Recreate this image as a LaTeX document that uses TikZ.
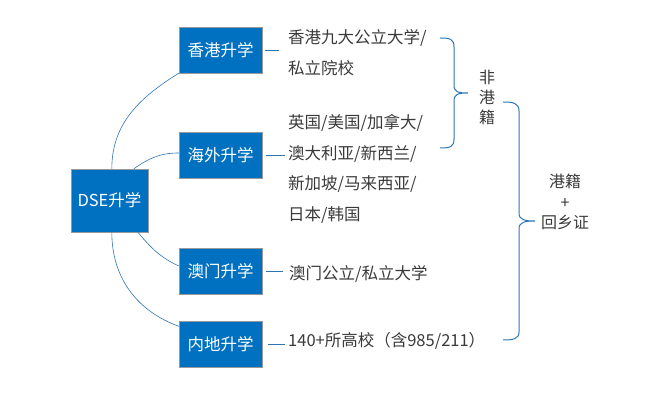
\documentclass[tikz,border=0pt]{standalone}
\usepackage{fontspec}
\setmainfont{Noto Sans CJK SC}
\usetikzlibrary{positioning}
\definecolor{boxblue}{HTML}{0070C0}
\definecolor{lineblue}{HTML}{2E75B6}
\definecolor{txtgray}{HTML}{3A3A3A}

\begin{document}
\begin{tikzpicture}[x=1pt,y=1pt,
    every node/.style={inner sep=0pt},
    bluebox/.style={draw=gray!80,fill=boxblue,text=white,minimum width=83pt,minimum height=46pt,font=\fontsize{16.5}{18}\selectfont},
    info/.style={anchor=west,align=left,text=txtgray,font=\fontsize{16.5}{30.7}\selectfont},
    tag/.style={align=center,text=txtgray,font=\fontsize{16}{20.3}\selectfont},
    link/.style={draw=lineblue,line width=0.6pt},
    bracket/.style={draw=lineblue,line width=1pt}]
\useasboundingbox (0,0) rectangle (645,401);
% boxes
\node[bluebox,minimum width=77pt,minimum height=63pt] (dse) at (109.5,200.5) {DSE升学};
\node[bluebox] (hk) at (220.5,351) {香港升学};
\node[bluebox] (ow) at (220.5,246) {海外升学};
\node[bluebox] (mo) at (220.5,130) {澳门升学};
\node[bluebox] (ml) at (220.5,56.5) {内地升学};
% texts
\node[info] (hkt) at (288,348.5) {香港九大公立大学/\\私立院校};
\node[info] (owt) at (288,232) {英国/美国/加拿大/\\澳大利亚/新西兰/\\新加坡/马来西亚/\\日本/韩国};
\node[info] (mot) at (289,127) {澳门公立/私立大学};
\node[info] (mlt) at (288,60) {140+所高校（含985/211）};
\node[tag] (fgj) at (487,303.5) {非\\港\\籍};
\node[tag] (gj) at (565,199) {港籍\\+\\回乡证};
% curves
\draw[link] ([xshift=41pt]dse.north west) to[out=90,in=-148] (hk.south west);
\draw[link] ([xshift=63pt]dse.north west) to[out=35,in=180] ([yshift=2pt]ow.west);
\draw[link] ([xshift=67pt]dse.south west) to[out=-50,in=155] ([yshift=5pt]mo.west);
\draw[link] ([xshift=41pt]dse.south west) to[out=-90,in=160] ([yshift=-5pt]ml.north west);
% dashes
\draw[link] ([xshift=3pt]hk.east) -- ([xshift=-9pt]hkt.west |- hk.east);
\draw[link] ([xshift=4pt]ow.east) -- ([xshift=-3pt]owt.west |- ow.east);
\draw[link] ([xshift=4pt]mo.east) -- ([xshift=-6pt]mot.west |- mo.east);
\draw[link] ([xshift=6pt]ml.east) -- ([xshift=-3pt]mlt.west |- ml.east);
% braces
\draw[bracket] (440,363) .. controls (450,363) and (454,362) .. (454,354) -- (454,316)
  .. controls (454,309) and (458,308) .. (468,308)
  .. controls (458,308) and (454,307) .. (454,300) -- (454,262)
  .. controls (454,254) and (450,253) .. (440,253);
\draw[bracket] (503,299) .. controls (513,299) and (519,298) .. (519,290) -- (519,188)
  .. controls (519,181) and (525,180) .. (535,180)
  .. controls (525,180) and (519,179) .. (519,172) -- (519,69)
  .. controls (519,62) and (513,61) .. (503,61);
\end{tikzpicture}
\end{document}
